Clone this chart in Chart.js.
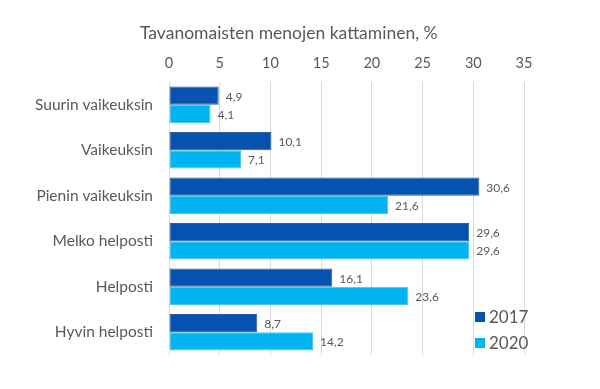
<!DOCTYPE html>
<html>
<head>
<meta charset="utf-8">
<script src="https://cdn.jsdelivr.net/npm/chart.js@4"></script>
<style>
  html, body { margin: 0; padding: 0; background: #fff; }
  #wrap { width: 600px; height: 389px; }
</style>
</head>
<body>
<div id="wrap"><canvas id="menotChart" width="600" height="389"></canvas></div>
<script>
const categories = ["Suurin vaikeuksin", "Vaikeuksin", "Pienin vaikeuksin", "Melko helposti", "Helposti", "Hyvin helposti"];
const years = ["2017", "2020"];
const values2017 = [4.9, 10.1, 30.6, 29.6, 16.1, 8.7];
const values2020 = [4.1, 7.1, 21.6, 29.6, 23.6, 14.2];
const xTicks = [0, 5, 10, 15, 20, 25, 30, 35];
const chartTitle = "Tavanomaisten menojen kattaminen, %";

const textColor = "#595959";
const fontFamily = "Lato, 'Open Sans', sans-serif";

// value labels at the bar ends, Finnish decimal comma
const barLabels = {
  id: "barLabels",
  afterDatasetsDraw(chart) {
    const ctx = chart.ctx;
    ctx.save();
    ctx.font = "12px " + fontFamily;
    ctx.fillStyle = textColor;
    ctx.textBaseline = "middle";
    ctx.textAlign = "left";
    chart.data.datasets.forEach((ds, i) => {
      chart.getDatasetMeta(i).data.forEach((bar, j) => {
        ctx.fillText(ds.data[j].toFixed(1).replace(".", ","), bar.x + 7, bar.y + 1);
      });
    });
    ctx.restore();
  }
};

// title top left and legend in the lower right corner of the plot
const extras = {
  id: "extras",
  afterDraw(chart) {
    const ctx = chart.ctx;
    const area = chart.chartArea;
    ctx.save();
    ctx.fillStyle = textColor;
    ctx.font = "17.5px " + fontFamily;
    ctx.textBaseline = "middle";
    ctx.fillText(chartTitle, 140, 33);

    ctx.font = "17px " + fontFamily;
    chart.data.datasets.forEach((ds, i) => {
      const y = area.bottom - 38 + i * 26;
      const x = area.right - 49;
      ctx.fillStyle = ds.backgroundColor;
      ctx.fillRect(x, y - 5, 10, 10);
      ctx.fillStyle = textColor;
      ctx.fillText(ds.label, x + 14, y + 1);
    });
    ctx.restore();
  }
};

new Chart(document.getElementById("menotChart"), {
  type: "bar",
  data: {
    labels: categories,
    datasets: [
      {
        label: years[0],
        data: values2017,
        backgroundColor: "#0552B1",
        borderColor: "#2d5f9c",
        borderWidth: 1,
        borderSkipped: false
      },
      {
        label: years[1],
        data: values2020,
        backgroundColor: "#00B4F1",
        borderColor: "#4fc3ee",
        borderWidth: 1,
        borderSkipped: false
      }
    ]
  },
  options: {
    indexAxis: "y",
    responsive: false,
    animation: false,
    categoryPercentage: 0.8,
    barPercentage: 1.0,
    layout: { padding: { top: 50, right: 76, bottom: 34, left: 0 } },
    plugins: {
      legend: { display: false },
      tooltip: { enabled: false }
    },
    scales: {
      x: {
        position: "top",
        min: 0,
        max: 35,
        afterBuildTicks: s => { s.ticks = xTicks.map(v => ({ value: v })); },
        afterFit: s => { s.height = 32; },
        ticks: { color: textColor, font: { size: 14.5, family: fontFamily }, padding: 10 },
        grid: { color: "#d9d9d9", drawTicks: false },
        border: { display: false }
      },
      y: {
        afterFit: s => { s.width = 169; },
        ticks: { color: textColor, font: { size: 15.5, family: fontFamily }, padding: 16 },
        grid: { display: false, drawTicks: false },
        border: { display: false }
      }
    }
  },
  plugins: [barLabels, extras]
});
</script>
</body>
</html>
